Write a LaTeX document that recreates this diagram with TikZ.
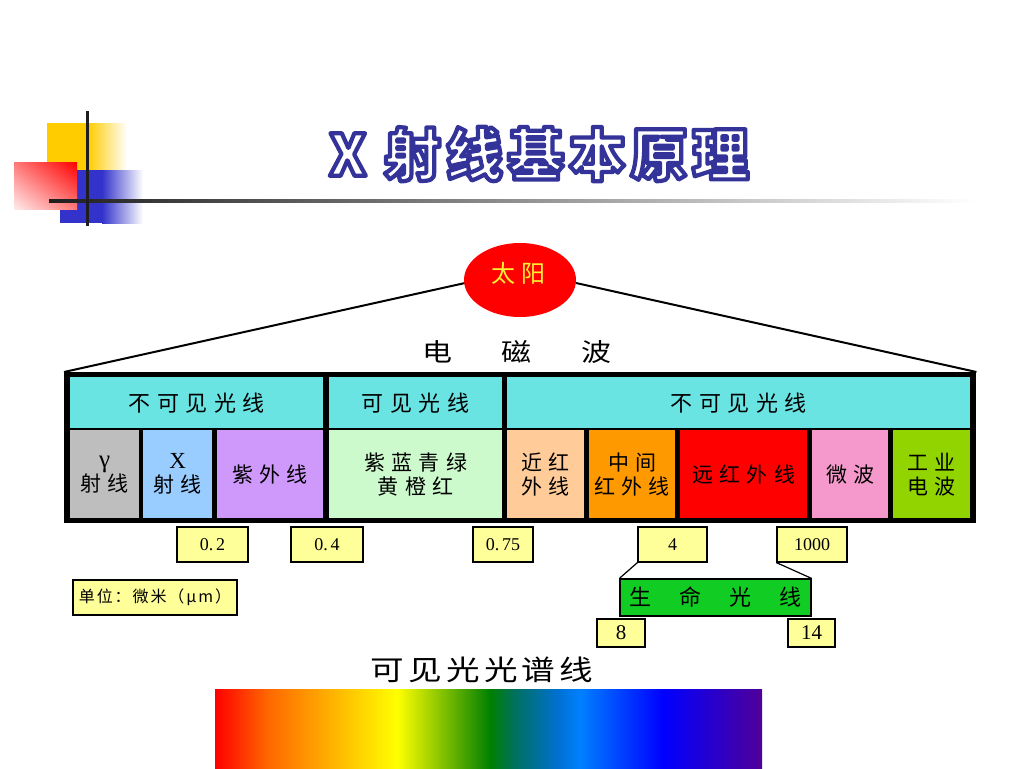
\documentclass[tikz,border=0pt]{standalone}
\usepackage{fontspec}
\setmainfont{Noto Sans CJK SC}
\newfontfamily\cjk{Noto Sans CJK SC}
\newfontfamily\cjktitle[LetterSpace=8]{Noto Sans CJK SC}
\newfontfamily\cjksp[LetterSpace=30]{Noto Sans CJK SC}
\newfontfamily\cjkunit[LetterSpace=12]{Noto Sans CJK SC}
\newfontfamily\cjkwide[FakeStretch=1.2]{Noto Sans CJK SC}
\newfontfamily\cjkwidesp[FakeStretch=1.2,LetterSpace=15]{Noto Sans CJK SC}
\newfontfamily\numfont{Liberation Serif}
\usetikzlibrary{shapes.geometric,shadings}

\definecolor{decoyellow}{RGB}{255,204,0}
\definecolor{decoblue}{RGB}{51,51,204}
\definecolor{decoline}{RGB}{30,30,30}
\definecolor{cyanc}{RGB}{106,227,227}
\definecolor{grayc}{RGB}{190,190,190}
\definecolor{xblue}{RGB}{153,204,255}
\definecolor{uvpurple}{RGB}{206,153,250}
\definecolor{visgreen}{RGB}{204,250,204}
\definecolor{peach}{RGB}{255,204,153}
\definecolor{midorange}{RGB}{255,153,0}
\definecolor{farred}{RGB}{255,0,0}
\definecolor{micropink}{RGB}{245,153,204}
\definecolor{radiogreen}{RGB}{146,212,0}
\definecolor{valyellow}{RGB}{255,255,153}
\definecolor{lifegreen}{RGB}{17,204,34}
\definecolor{sunyellow}{RGB}{255,240,50}
\definecolor{redlight}{RGB}{255,235,235}
\definecolor{redmid}{RGB}{255,120,120}
\definecolor{spR}{RGB}{255,0,0}
\definecolor{spO}{RGB}{255,102,0}
\definecolor{spY1}{RGB}{255,192,0}
\definecolor{spY}{RGB}{255,255,0}
\definecolor{spG}{RGB}{0,128,0}
\definecolor{spT}{RGB}{0,112,96}
\definecolor{spB1}{RGB}{0,112,208}
\definecolor{spB2}{RGB}{0,128,255}
\definecolor{spB}{RGB}{0,0,255}
\definecolor{spV}{RGB}{80,0,152}

\pgfdeclarehorizontalshading{spectrum}{100bp}{color(0bp)=(spR); color(25bp)=(spR); color(29.75bp)=(spO); color(36.7bp)=(spY1); color(41.64bp)=(spY); color(50.14bp)=(spG); color(52.42bp)=(spT); color(56.26bp)=(spB1); color(58.36bp)=(spB2); color(65.95bp)=(spB); color(75bp)=(spV); color(100bp)=(spV)}

\newcommand\titlefx[1]{{\color{white}\special{pdf:literal direct 2 Tr 1 j 4.2 w 0.2 0.2 0.6 RG}#1\special{pdf:literal direct 0 Tr 1 w}}}

\begin{document}
\begin{tikzpicture}[x=1pt,y=-1pt,
  cell/.style={inner sep=0pt, anchor=north west, align=center},
  toprow/.style={cell, fill=cyanc, minimum height=51pt, font=\cjksp\fontsize{22}{26}\selectfont},
  botrow/.style={cell, minimum height=88pt, font=\cjksp\fontsize{21}{24}\selectfont},
  valbox/.style={draw=black, line width=1.2pt, fill=valyellow, inner sep=0pt, font=\numfont\fontsize{18}{20}\selectfont},
  conn/.style={draw=black, line width=1.2pt}]
\fill[white] (0,0) rectangle (1024,768);
\useasboundingbox (0,0) rectangle (1024,768);

% decoration top-left
\fill[decoyellow] (47,123) rectangle (88,170);
\shade[left color=decoyellow, right color=white] (88,123) rectangle (127,170);
\fill[decoblue] (60,170) rectangle (102,223);
\shade[left color=decoblue, right color=white] (102,170) rectangle (143,223);
\shade[upper right=red, lower left=redlight, upper left=redmid, lower right=redmid] (14,162) rectangle (77,209);
\shade[left color=black!88, middle color=black!55, right color=white] (49,199) rectangle (975,202);
\fill[decoline] (85.5,111) rectangle (88.5,226);

% title
\node[inner sep=0pt, font=\cjktitle\bfseries\fontsize{57}{62}\selectfont] (title) at (539,154) {\titlefx{X 射线基本原理}};

% band
\node[fill=black, inner sep=0pt, minimum width=912pt, minimum height=151pt, anchor=north west] (band) at (64,372) {};

% sun
\draw[line width=2pt] (band.north west) -- (465,283) coordinate (sunL);
\draw[line width=2pt] (band.north east) -- (576,283) coordinate (sunR);
\node[ellipse, fill=red, inner sep=0pt, minimum width=112pt, minimum height=74pt] (sun) at (520,280) {};
\node[text=sunyellow, font=\cjk\fontsize{24}{26}\selectfont] (suntext) at (518,273) {太\hspace{6pt}阳};

\node[font=\cjkwide\fontsize{25}{27}\selectfont] (em) at (517,352) {电\hspace{50pt}磁\hspace{50pt}波};

% top row
\node[toprow, minimum width=253pt] (inv1) at (70,377) {不可见光线};
\node[toprow, minimum width=173pt] (vis) at (329,377) {可见光线};
\node[toprow, minimum width=463pt] (inv2) at (507,377) {不可见光线};

% bottom row
\node[botrow, fill=grayc, minimum width=69pt] (gamma) at (70,430) {{\numfont\fontsize{25}{24}\selectfont γ}\\射线};
\node[botrow, fill=xblue, minimum width=69pt] (xray) at (143,430) {{\numfont\fontsize{23}{24}\selectfont X}\\射线};
\node[botrow, fill=uvpurple, minimum width=106pt] (uv) at (217,430) {紫外线};
\node[botrow, fill=visgreen, minimum width=173pt] (visible) at (329,430) {紫蓝青绿\\黄橙红};
\node[botrow, fill=peach, minimum width=77pt] (nir) at (507,430) {近红\\外线};
\node[botrow, fill=midorange, minimum width=86pt] (mir) at (589,430) {中间\\红外线};
\node[botrow, fill=farred, minimum width=127pt] (fir) at (680,430) {远红外线};
\node[botrow, fill=micropink, minimum width=76pt] (micro) at (812,430) {微波};
\node[botrow, fill=radiogreen, minimum width=77pt] (radio) at (893,430) {工业\\电波};

% values
\node[valbox, minimum width=71pt, minimum height=35pt] (v02) at (212.5,544.5) {0.\kern3pt 2};
\node[valbox, minimum width=72pt, minimum height=35pt] (v04) at (327,544.5) {0.\kern3pt 4};
\node[valbox, minimum width=60pt, minimum height=35pt] (v075) at (503,544.5) {0.\kern3pt 75};
\node[valbox, minimum width=69pt, minimum height=35pt] (v4) at (672.5,544.5) {4};
\node[valbox, minimum width=70pt, minimum height=35pt] (v1000) at (812,544.5) {1000};

\node[valbox, font=\cjkunit\fontsize{16}{18}\selectfont, minimum width=164pt, minimum height=35pt] (unit) at (155,597.5) {单位：微米（μm）};

\node[draw=black, line width=1.2pt, fill=lifegreen, inner sep=0pt, minimum width=191pt, minimum height=37pt, font=\cjk\fontsize{22}{24}\selectfont] (life) at (715.5,597.5) {生\hspace{28pt}命\hspace{28pt}光\hspace{28pt}线};
\draw[conn] (v4.south west) -- (life.north west);
\draw[conn] (v1000.south west) -- (life.north east);

\node[valbox, font=\numfont\fontsize{21}{23}\selectfont, minimum width=48pt, minimum height=28pt] (v8) at (621,633) {8};
\node[valbox, font=\numfont\fontsize{21}{23}\selectfont, minimum width=47pt, minimum height=28pt] (v14) at (811.5,633) {14};

% spectrum
\node[font=\cjkwidesp\fontsize{28}{30}\selectfont] (spectitle) at (482,670) {可见光光谱线};
\shade[shading=spectrum] (215,689) rectangle (762,768);
\end{tikzpicture}
\end{document}
